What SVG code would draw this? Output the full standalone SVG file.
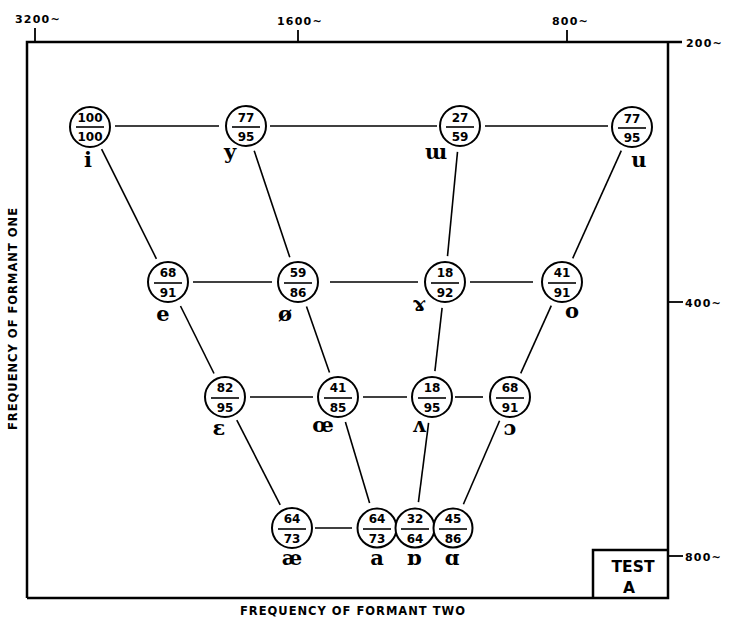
<svg xmlns="http://www.w3.org/2000/svg" width="729" height="619" viewBox="0 0 729 619">
<style>
.frame{fill:none;stroke:#000;stroke-width:2.5}
.tick{fill:none;stroke:#000;stroke-width:1.8}
.edge{fill:none;stroke:#000;stroke-width:1.6}
.node circle{fill:#fff;stroke:#000;stroke-width:2}
.node line{stroke:#000;stroke-width:1.6}
.num{font-family:"DejaVu Sans","Liberation Sans",sans-serif;font-weight:bold;font-size:12px;text-anchor:middle;fill:#000}
.lab{font-family:"DejaVu Serif","Liberation Serif",serif;font-weight:bold;font-size:21px;text-anchor:middle;fill:#000}
.ax{font-family:"DejaVu Sans","Liberation Sans",sans-serif;font-weight:bold;font-size:11px;letter-spacing:1.2px;fill:#000}
.ttl{font-family:"DejaVu Sans","Liberation Sans",sans-serif;font-weight:bold;font-size:11.5px;fill:#000}
.test{font-family:"DejaVu Sans","Liberation Sans",sans-serif;font-weight:bold;font-size:15.5px;text-anchor:middle;fill:#000}
</style>
<rect width="729" height="619" fill="#fff"/>
<g id="frame">
<polyline class="frame" points="27,598 27,42 682,42"/>
<polyline class="frame" points="668,42 668,598 27,598"/>
<line class="tick" x1="35" y1="28" x2="35" y2="42"/>
<line class="tick" x1="298" y1="30" x2="298" y2="42"/>
<line class="tick" x1="567" y1="30" x2="567" y2="42"/>
<line class="tick" x1="668" y1="302" x2="683" y2="302"/>
<line class="tick" x1="668" y1="556" x2="683" y2="556"/>
<text class="ax" x="15" y="23">3200~</text>
<text class="ax" x="277" y="25">1600~</text>
<text class="ax" x="552" y="25">800~</text>
<text class="ax" x="686" y="47">200~</text>
<text class="ax" x="685" y="307">400~</text>
<text class="ax" x="685" y="561">800~</text>
<text class="ttl" x="240" y="615" textLength="225" lengthAdjust="spacing">FREQUENCY OF FORMANT TWO</text>
<text class="ttl" transform="translate(17,319) rotate(-90)" x="-111" y="0" textLength="222" lengthAdjust="spacing">FREQUENCY OF FORMANT ONE</text>
</g>
<g id="test-box">
<polyline class="frame" points="593,598 593,550 668,550"/>
<text class="test" x="633" y="572" textLength="43" lengthAdjust="spacingAndGlyphs">TEST</text>
<text class="test" x="629" y="593">A</text>
</g>
<g id="connectors">
<line class="edge" x1="115" y1="126" x2="219" y2="126"/>
<line class="edge" x1="270" y1="126" x2="437" y2="126"/>
<line class="edge" x1="485" y1="126" x2="608" y2="126"/>
<line class="edge" x1="193" y1="282" x2="272" y2="282"/>
<line class="edge" x1="330" y1="282" x2="418" y2="282"/>
<line class="edge" x1="470" y1="282" x2="533" y2="282"/>
<line class="edge" x1="250" y1="397" x2="313" y2="397"/>
<line class="edge" x1="363" y1="397" x2="407" y2="397"/>
<line class="edge" x1="455" y1="397" x2="483" y2="397"/>
<line class="edge" x1="315" y1="528" x2="352" y2="528"/>
<line class="edge" x1="101.6" y1="149.2" x2="156.4" y2="258.8"/>
<line class="edge" x1="254.2" y1="150.7" x2="289.8" y2="257.3"/>
<line class="edge" x1="457.5" y1="151.9" x2="447.5" y2="256.1"/>
<line class="edge" x1="621.3" y1="150.7" x2="572.7" y2="258.3"/>
<line class="edge" x1="180.5" y1="306" x2="214" y2="373.5"/>
<line class="edge" x1="306.5" y1="306.5" x2="329.5" y2="372.5"/>
<line class="edge" x1="442.1" y1="307.8" x2="434.9" y2="371.2"/>
<line class="edge" x1="551.3" y1="305.7" x2="520.7" y2="373.3"/>
<line class="edge" x1="236.8" y1="420.1" x2="280.2" y2="504.9"/>
<line class="edge" x1="345.4" y1="421.9" x2="369.6" y2="503.1"/>
<line class="edge" x1="428.6" y1="422.8" x2="418.4" y2="502.2"/>
<line class="edge" x1="499.6" y1="420.8" x2="463.4" y2="504.2"/>
</g>
<g id="node-i" class="node"><circle cx="90" cy="127" r="20"/><text class="num" x="90" y="122">100</text><line x1="76" y1="127" x2="104" y2="127"/><text class="num" x="90" y="141">100</text><text class="lab" x="88" y="167">i</text></g>
<g id="node-y" class="node"><circle cx="246" cy="126" r="20"/><text class="num" x="246" y="122">77</text><line x1="232" y1="127" x2="260" y2="127"/><text class="num" x="246" y="141">95</text><text class="lab" x="230" y="159">y</text></g>
<g id="node-uu" class="node"><circle cx="460" cy="126" r="20"/><text class="num" x="460" y="122">27</text><line x1="446" y1="127" x2="474" y2="127"/><text class="num" x="460" y="141">59</text><text class="lab" x="436" y="159">ɯ</text></g>
<g id="node-u" class="node"><circle cx="632" cy="127" r="20"/><text class="num" x="632" y="123">77</text><line x1="618" y1="128" x2="646" y2="128"/><text class="num" x="632" y="142">95</text><text class="lab" x="639" y="167">u</text></g>
<g id="node-e" class="node"><circle cx="168" cy="282" r="20"/><text class="num" x="168" y="277">68</text><line x1="154" y1="283" x2="182" y2="283"/><text class="num" x="168" y="297">91</text><text class="lab" x="163" y="321">e</text></g>
<g id="node-oslash" class="node"><circle cx="298" cy="282" r="20"/><text class="num" x="298" y="277">59</text><line x1="284" y1="283" x2="312" y2="283"/><text class="num" x="298" y="297">86</text><text class="lab" x="285" y="321">ø</text></g>
<g id="node-ramshorn" class="node"><circle cx="445" cy="282" r="20"/><text class="num" x="445" y="277">18</text><line x1="431" y1="283" x2="459" y2="283"/><text class="num" x="445" y="297">92</text><text class="lab" x="419" y="311">ɤ</text></g>
<g id="node-o" class="node"><circle cx="562" cy="282" r="20"/><text class="num" x="562" y="277">41</text><line x1="548" y1="283" x2="576" y2="283"/><text class="num" x="562" y="297">91</text><text class="lab" x="572" y="318">o</text></g>
<g id="node-epsilon" class="node"><circle cx="225" cy="397" r="20"/><text class="num" x="225" y="392">82</text><line x1="211" y1="398" x2="239" y2="398"/><text class="num" x="225" y="412">95</text><text class="lab" x="219" y="435">ɛ</text></g>
<g id="node-oe" class="node"><circle cx="338" cy="397" r="20"/><text class="num" x="338" y="392">41</text><line x1="324" y1="398" x2="352" y2="398"/><text class="num" x="338" y="412">85</text><text class="lab" x="323" y="432">œ</text></g>
<g id="node-wedge" class="node"><circle cx="432" cy="397" r="20"/><text class="num" x="432" y="392">18</text><line x1="418" y1="398" x2="446" y2="398"/><text class="num" x="432" y="412">95</text><text class="lab" x="419" y="432">ʌ</text></g>
<g id="node-openo" class="node"><circle cx="510" cy="397" r="20"/><text class="num" x="510" y="392">68</text><line x1="496" y1="398" x2="524" y2="398"/><text class="num" x="510" y="412">91</text><text class="lab" x="510" y="435">ɔ</text></g>
<g id="node-ae" class="node"><circle cx="292" cy="528" r="20"/><text class="num" x="292" y="523">64</text><line x1="278" y1="529" x2="306" y2="529"/><text class="num" x="292" y="543">73</text><text class="lab" x="292" y="565">æ</text></g>
<g id="node-a" class="node"><circle cx="377" cy="528" r="19.5"/><text class="num" x="377" y="523">64</text><line x1="363" y1="529" x2="391" y2="529"/><text class="num" x="377" y="543">73</text><text class="lab" x="377" y="565">a</text></g>
<g id="node-turneda" class="node"><circle cx="415" cy="528" r="19.5"/><text class="num" x="415" y="523">32</text><line x1="401" y1="529" x2="429" y2="529"/><text class="num" x="415" y="543">64</text><text class="lab" x="414" y="565">ɒ</text></g>
<g id="node-scripta" class="node"><circle cx="453" cy="528" r="19.5"/><text class="num" x="453" y="523">45</text><line x1="439" y1="529" x2="467" y2="529"/><text class="num" x="453" y="543">86</text><text class="lab" x="452" y="565">ɑ</text></g>
</svg>
